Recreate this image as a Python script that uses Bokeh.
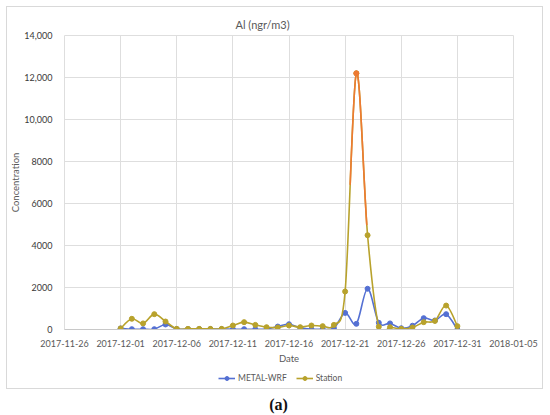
import datetime as dt
from bokeh.plotting import figure
from bokeh.models import (ColumnDataSource, FixedTicker, Legend, LegendItem, Title, Div)
from bokeh.layouts import column
from bokeh.embed import file_html
from bokeh.resources import INLINE

# ---------------- data ----------------
start_date = dt.datetime(2017, 12, 1)
n_days = 31
dates = [start_date + dt.timedelta(days=i) for i in range(n_days)]

metal_wrf = [50, 15, 15, 15, 240, 20, 20, 20, 20, 20,
             15, 15, 15, 20, 140, 250, 80, 15, 15, 60,
             790, 270, 1940, 320, 290, 60, 180, 540, 430, 730, 0]
station = [50, 510, 290, 730, 380, 30, 30, 30, 30, 30,
           190, 350, 220, 110, 95, 190, 110, 190, 160, 220,
           1810, 12200, 4490, 130, 110, 30, 95, 350, 410, 1140, 160]

x_tick_labels = ["2017-11-26", "2017-12-01", "2017-12-06", "2017-12-11", "2017-12-16",
                 "2017-12-21", "2017-12-26", "2017-12-31", "2018-01-05"]
y_ticks = [0, 2000, 4000, 6000, 8000, 10000, 12000, 14000]
y_tick_labels = ["0", "2000", "4000", "6000", "8000", "10,000", "12,000", "14,000"]
series_names = ["METAL-WRF", "Station"]

title_text = "Al (ngr/m3)"
caption_text = "(a)"
peak_index = 22 - 1  # 2017-12-22 peak highlighted

# ---------------- helpers ----------------
def ms(d):
    return (d - dt.datetime(1970, 1, 1)).total_seconds() * 1000.0

xs = [ms(d) for d in dates]

def smooth_segments(x, y):
    """Catmull-Rom style cubic Bezier segments (like Excel smoothed lines)."""
    n = len(x)
    segs = []
    for i in range(n - 1):
        i0 = max(i - 1, 0)
        i3 = min(i + 2, n - 1)
        cx0 = x[i] + (x[i + 1] - x[i0]) / 6.0
        cy0 = y[i] + (y[i + 1] - y[i0]) / 6.0
        cx1 = x[i + 1] - (x[i3] - x[i]) / 6.0
        cy1 = y[i + 1] - (y[i3] - y[i]) / 6.0
        segs.append(((x[i], y[i]), (cx0, cy0), (cx1, cy1), (x[i + 1], y[i + 1])))
    return segs

def lerp(a, b, t):
    return (a[0] + (b[0] - a[0]) * t, a[1] + (b[1] - a[1]) * t)

def split(seg, t):
    p0, p1, p2, p3 = seg
    a = lerp(p0, p1, t); b = lerp(p1, p2, t); c = lerp(p2, p3, t)
    d = lerp(a, b, t); e = lerp(b, c, t); f = lerp(d, e, t)
    return (p0, a, d, f), (f, e, c, p3)

def seg_source(segs):
    return ColumnDataSource(dict(
        x0=[s[0][0] for s in segs], y0=[s[0][1] for s in segs],
        cx0=[s[1][0] for s in segs], cy0=[s[1][1] for s in segs],
        cx1=[s[2][0] for s in segs], cy1=[s[2][1] for s in segs],
        x1=[s[3][0] for s in segs], y1=[s[3][1] for s in segs]))

# ---------------- figure ----------------
FONT = "Lato"
BLUE = "#5470d3"
OLIVE = "#b8a22c"
ORANGE = "#ee7a32"
GRID = "#dedede"
TXT = "#595959"

x_tick_ms = [ms(dt.datetime.strptime(s, "%Y-%m-%d")) for s in x_tick_labels]

p = figure(frame_width=449, frame_height=294, x_axis_type="datetime",
           x_range=(x_tick_ms[0], x_tick_ms[-1]), y_range=(y_ticks[0], y_ticks[-1]),
           output_backend="svg", toolbar_location=None,
           min_border_left=50, min_border_right=28, min_border_top=28, min_border_bottom=6)
p.outline_line_color = GRID

p.title = Title(text=title_text, align="left", offset=171, text_font=FONT,
                text_font_size="11px", text_font_style="normal", text_color=TXT)

p.xaxis.ticker = FixedTicker(ticks=x_tick_ms)
p.xaxis.major_label_overrides = {t: l for t, l in zip(x_tick_ms, x_tick_labels)}
p.yaxis.ticker = FixedTicker(ticks=y_ticks)
p.yaxis.major_label_overrides = {t: l for t, l in zip(y_ticks, y_tick_labels)}

for ax in (p.xaxis[0], p.yaxis[0]):
    ax.major_tick_line_color = None
    ax.minor_tick_line_color = None
    ax.major_label_text_font = FONT
    ax.major_label_text_font_size = "9px"
    ax.axis_label_text_font = FONT
    ax.axis_label_text_font_size = "9.5px"
    ax.axis_label_text_font_style = "normal"
    ax.axis_label_text_color = TXT
p.xaxis.major_label_text_color = TXT
p.yaxis.major_label_text_color = "#3a3a3a"
p.xaxis.axis_line_color = "#c8c8c8"
p.yaxis.axis_line_color = None
p.xaxis.axis_label = "Date"
p.yaxis.axis_label = "Concentration"
p.xaxis.major_label_standoff = 4
p.yaxis.major_label_standoff = 6
p.xaxis.axis_label_standoff = 3
p.yaxis.axis_label_standoff = 0

p.xgrid.grid_line_color = GRID
p.ygrid.grid_line_color = GRID

# METAL-WRF
wrf_segs = seg_source(smooth_segments(xs, metal_wrf))
p.bezier(x0="x0", y0="y0", x1="x1", y1="y1", cx0="cx0", cy0="cy0",
         cx1="cx1", cy1="cy1", source=wrf_segs, line_color=BLUE, line_width=1.6)
p.scatter(xs, metal_wrf, size=5, color=BLUE)

# Station
st_all = smooth_segments(xs, station)
p.bezier(x0="x0", y0="y0", x1="x1", y1="y1", cx0="cx0", cy0="cy0",
         cx1="cx1", cy1="cy1", source=seg_source(st_all), line_color=OLIVE, line_width=1.6)
rise = split(st_all[peak_index - 1], 0.45)[1]
fall = split(st_all[peak_index], 0.93)[0]
p.bezier(x0="x0", y0="y0", x1="x1", y1="y1", cx0="cx0", cy0="cy0",
         cx1="cx1", cy1="cy1", source=seg_source([rise, fall]), line_color=ORANGE, line_width=1.6)
p.scatter(xs, station, size=5, color=OLIVE)
p.scatter([xs[peak_index]], [station[peak_index]], size=5, color=ORANGE)

# ---------------- legend strip ----------------
lf = figure(width=535, height=22, output_backend="svg", toolbar_location=None,
            x_range=(0, 1), y_range=(0, 1), min_border=0, outline_line_color=None)
lf.axis.visible = False
lf.grid.visible = False
items = []
for name, col in zip(series_names, [BLUE, OLIVE]):
    # off-range proxies: only their legend glyphs are visible
    r1 = lf.line([-2, -1], [-2, -2], line_color=col, line_width=1.6)
    r2 = lf.scatter([-2], [-2], size=5, color=col)
    items.append(LegendItem(label=name, renderers=[r1, r2]))
legend = Legend(items=items, orientation="horizontal", location=(154, 4),
                label_text_font=FONT, label_text_font_size="8.5px", label_text_color=TXT,
                border_line_color=None, background_fill_alpha=0,
                glyph_width=17, glyph_height=10, spacing=9, padding=2, margin=0,
                label_standoff=3, label_height=12)
lf.add_layout(legend, "center")

boxed = column(p, lf, spacing=0, styles={"border": "1px solid #d9d9d9"})
cap = Div(text=caption_text, width=535, height=18,
          styles={"text-align": "center", "font-family": "Liberation Serif, serif",
                  "font-size": "16px", "font-weight": "bold", "color": "#111"})
layout = column(boxed, cap, spacing=0, margin=(6, 0, 0, 6))
open("out.html", "w").write(file_html(layout, INLINE))
